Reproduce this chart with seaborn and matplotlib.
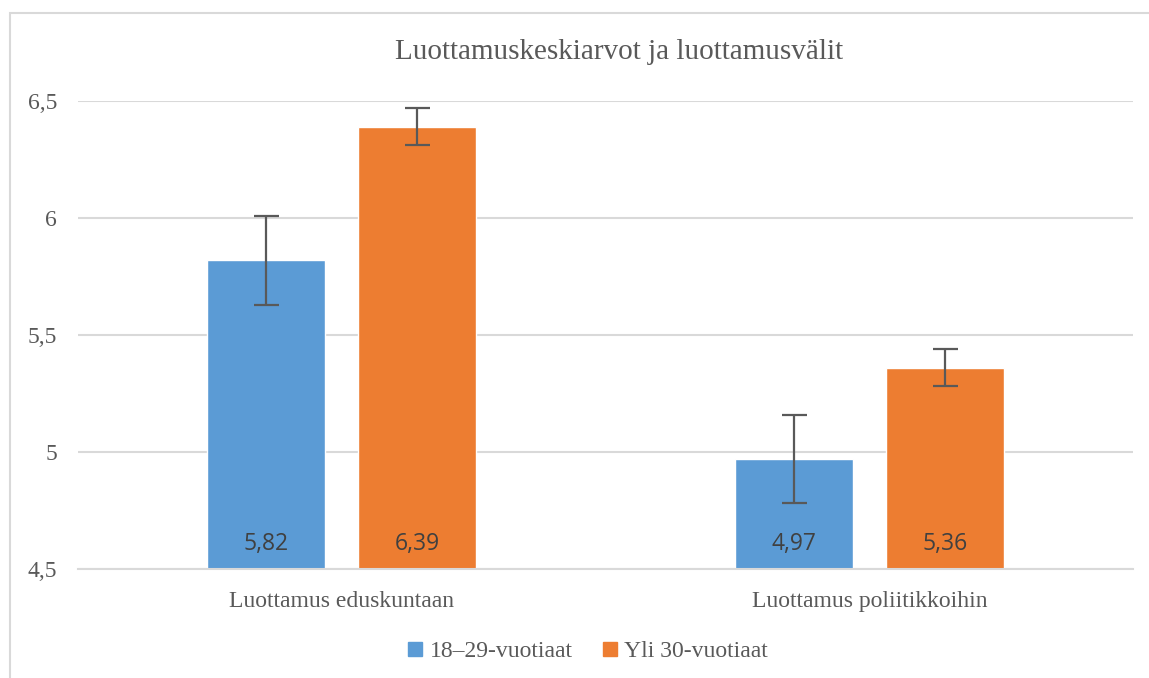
import numpy as np
import pandas as pd
import matplotlib
matplotlib.use("Agg")
import matplotlib.pyplot as plt
import seaborn as sns
from matplotlib.patches import Rectangle
from matplotlib.lines import Line2D

# data
categories = ['Luottamus eduskuntaan', 'Luottamus poliitikkoihin']
groups = ['18–29-vuotiaat', 'Yli 30-vuotiaat']
young_means = [5.82, 4.97]
older_means = [6.39, 5.36]
young_err = [0.19, 0.19]
older_err = [0.08, 0.08]
yticks = [4.5, 5.0, 5.5, 6.0, 6.5]
ytick_labels = ['4,5', '5', '5,5', '6', '6,5']

colors = ['#5B9BD5', '#ED7D31']
text_col = '#595959'
grid_col = '#D9D9D9'

df = pd.DataFrame({
    'kategoria': categories * 2,
    'ryhma': [groups[0]] * 2 + [groups[1]] * 2,
    'arvo': young_means + older_means,
    'virhe': young_err + older_err,
})

sns.set_theme(style='white')
plt.rcParams['font.family'] = ['Liberation Serif', 'DejaVu Serif']

fig = plt.figure(figsize=(11.49, 6.78), dpi=100)
ax = fig.add_axes([78 / 1149, 1 - 569 / 678, (1133 - 78) / 1149, (569 - 101) / 678])

sns.barplot(data=df, x='kategoria', y='arvo', hue='ryhma', hue_order=groups,
            palette=colors, width=0.574, gap=0.22, saturation=1,
            errorbar=None, legend=False, ax=ax)
ax.set_xlim(-0.5, 1.5)

# error bars and value labels at bar positions
for container, grp in zip(ax.containers, groups):
    sub = df[df['ryhma'] == grp]
    for bar, val, err in zip(container, sub['arvo'], sub['virhe']):
        cx = bar.get_x() + bar.get_width() / 2
        ax.errorbar(cx, val, yerr=err, fmt='none', ecolor=text_col,
                    elinewidth=1.6, capsize=9, capthick=1.6, zorder=5)
        ax.annotate(f'{val:.2f}'.replace('.', ','), xy=(cx, 4.5),
                    xytext=(0, 25), textcoords='offset pixels',
                    ha='center', va='center', fontsize=16.5,
                    family=['Open Sans', 'DejaVu Sans'], color='#404040')

ax.set_ylim(4.5, 6.5)
ax.set_yticks(yticks)
ax.set_yticklabels(ytick_labels)
ax.set_xlabel('')
ax.set_ylabel('')
ax.grid(axis='y', color=grid_col, linewidth=1.5)
ax.set_axisbelow(True)
for side in ['left', 'right', 'top']:
    ax.spines[side].set_visible(False)
ax.spines['bottom'].set_color(grid_col)
ax.spines['bottom'].set_linewidth(1.5)
ax.tick_params(axis='y', length=0, pad=15, labelsize=17, labelcolor=text_col)
ax.tick_params(axis='x', length=0, pad=16, labelsize=17, labelcolor=text_col)

fig.text(619 / 1149, 1 - 52 / 678, 'Luottamuskeskiarvot ja luottamusvälit',
         ha='center', va='center', fontsize=21, color=text_col)

handles = [Line2D([], [], marker='s', linestyle='none', markersize=10,
                  markerfacecolor=c, markeredgecolor=c) for c in colors]
fig.legend(handles, groups, loc='center', bbox_to_anchor=(587 / 1149, 1 - 651 / 678),
           ncol=2, frameon=False, fontsize=17, labelcolor=text_col,
           handletextpad=0.2, columnspacing=1.2, handlelength=0.8)

# outer chart border (top and left visible)
fig.patches.append(Rectangle((10 / 1149, -0.05), 1.1, 1 - 13 / 678 + 0.05,
                             transform=fig.transFigure, fill=False,
                             edgecolor=grid_col, linewidth=1.5))

fig.savefig('out.png', dpi=100, facecolor='white')
